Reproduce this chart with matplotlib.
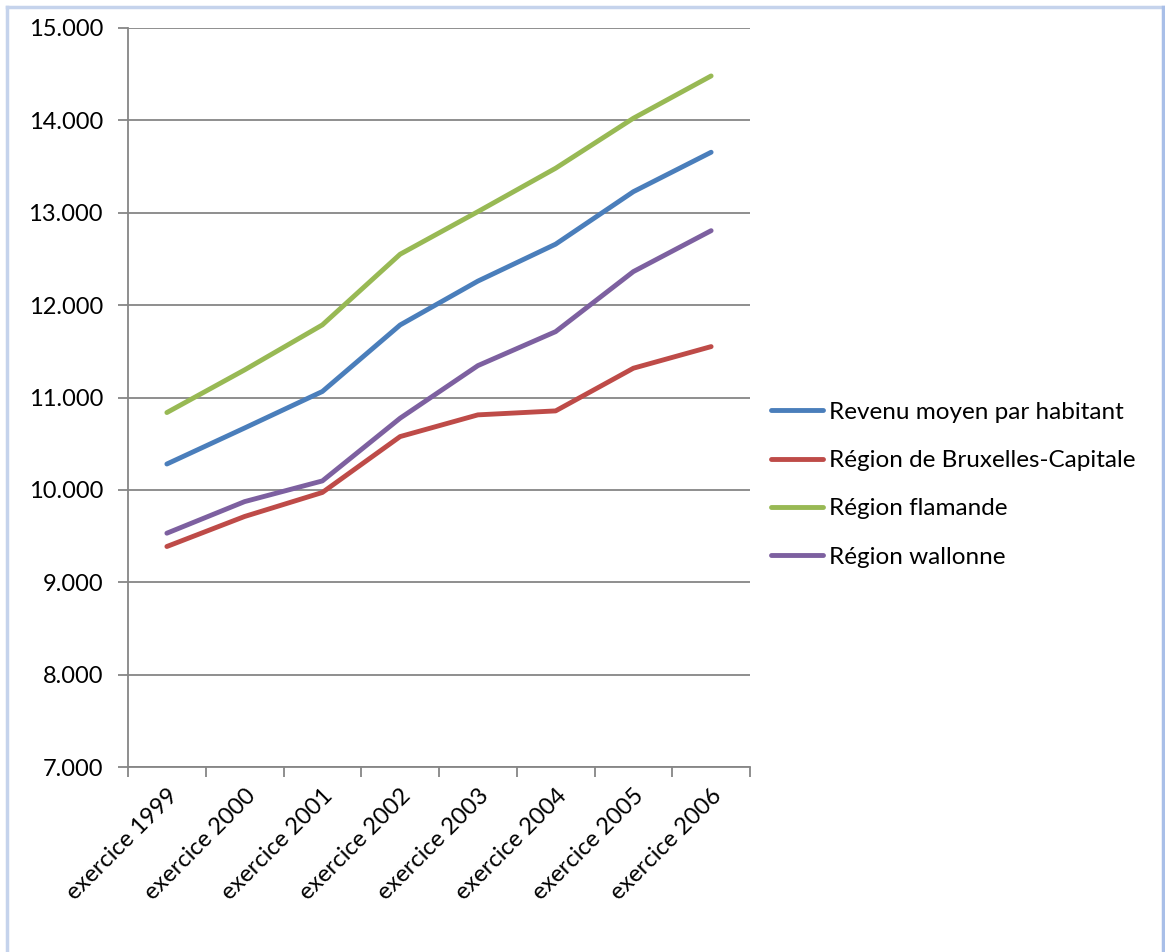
import numpy as np
import matplotlib.pyplot as plt
from matplotlib.lines import Line2D
from matplotlib.ticker import FuncFormatter

plt.rcParams['font.family'] = ['Lato', 'DejaVu Sans']

years = ['exercice 1999', 'exercice 2000', 'exercice 2001', 'exercice 2002',
         'exercice 2003', 'exercice 2004', 'exercice 2005', 'exercice 2006']
revenu_moyen = [10280, 10670, 11065, 11785, 12260, 12660, 13228, 13655]
bruxelles = [9387, 9712, 9972, 10577, 10812, 10855, 11317, 11551]
flamande = [10837, 11299, 11786, 12551, 13012, 13482, 14023, 14481]
wallonne = [9531, 9873, 10097, 10776, 11345, 11713, 12363, 12806]

series = [
    ('Revenu moyen par habitant', revenu_moyen, '#4a7ebb'),
    ('Région de Bruxelles-Capitale', bruxelles, '#be4b48'),
    ('Région flamande', flamande, '#98b954'),
    ('Région wallonne', wallonne, '#7d60a0'),
]

W, H = 1165, 952
fig = plt.figure(figsize=(W / 100, H / 100), dpi=100)
ax = fig.add_axes([128 / W, 1 - 767 / H, (750 - 128) / W, (767 - 28) / H])

x = np.arange(len(years))
for name, vals, col in series:
    ax.plot(x, vals, color=col, lw=3.5, label=name, solid_capstyle='round',
            solid_joinstyle='round')

grid_col = '#868686'
ax.set_xlim(-0.5, len(years) - 0.5)
ax.set_ylim(7000, 15000)
ax.set_yticks(np.arange(7000, 15001, 1000))
ax.yaxis.set_major_formatter(FuncFormatter(lambda v, p: f'{int(v):,}'.replace(',', '.')))
ax.grid(axis='y', color=grid_col, lw=1.3)
ax.set_axisbelow(True)

# category ticks sit on the boundaries, labels at the centers
ax.set_xticks(np.arange(-0.5, len(years)), minor=False)
ax.set_xticklabels([])
ax.set_xticks(x, minor=True)
ax.set_xticklabels(years, minor=True, rotation=45, ha='right',
                   rotation_mode='anchor', fontsize=17)
ax.tick_params(axis='x', which='minor', length=0, pad=13)
ax.tick_params(axis='x', which='major', length=7, width=1.3, color=grid_col)
ax.tick_params(axis='y', length=7, width=1.3, color=grid_col, labelsize=17, pad=11)

for s in ['top', 'right']:
    ax.spines[s].set_visible(False)
for s in ['left', 'bottom']:
    ax.spines[s].set_color(grid_col)
    ax.spines[s].set_linewidth(1.3)

leg = ax.legend(loc='center left', frameon=False,
                fontsize=17.5, handlelength=2.15, handletextpad=0.25,
                labelspacing=1.12, borderaxespad=0, borderpad=0)
leg.set_bbox_to_anchor((1.034, 0.382), transform=ax.transAxes)

# light frame around the chart area
bc = '#c5d3ec'
fig.add_artist(Line2D([7 / W, 7 / W], [0, 1 - 7 / H], color=bc, lw=2.5))
fig.add_artist(Line2D([7 / W, 1163 / W], [1 - 7 / H, 1 - 7 / H], color=bc, lw=2.5))
fig.add_artist(Line2D([1163 / W, 1163 / W], [0, 1 - 7 / H], color='#a9bfe8', lw=2.5))

fig.savefig('out.png', dpi=100, facecolor='white')
